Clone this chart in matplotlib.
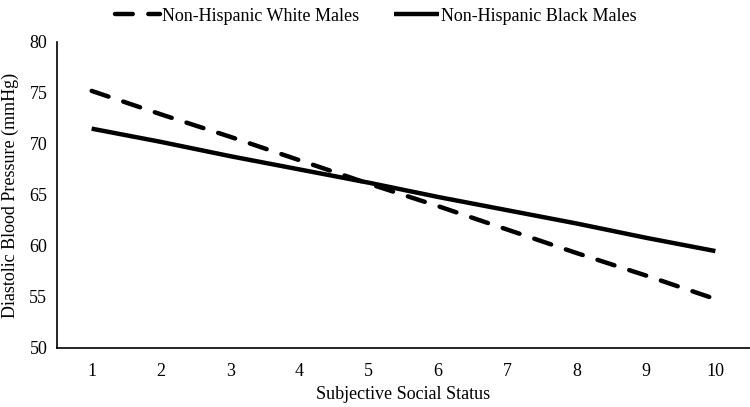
import matplotlib.pyplot as plt
import matplotlib as mpl

mpl.rcParams["font.family"] = ["Liberation Serif", "DejaVu Serif"]

# subjective social status ladder
status = [1, 2, 3, 4, 5, 6, 7, 8, 9, 10]
# predicted diastolic BP
white_dbp = [75.2, 72.9, 70.7, 68.4, 66.1, 63.9, 61.6, 59.3, 57.1, 54.8]
black_dbp = [71.5, 70.2, 68.8, 67.5, 66.2, 64.8, 63.5, 62.2, 60.8, 59.5]
yticks = [50, 55, 60, 65, 70, 75, 80]

fig = plt.figure(figsize=[7.5, 4.07], dpi=100)
ax = fig.add_axes([0.076, 0.145, 0.924, 0.752])

ax.plot(status, white_dbp, color="k", lw=3.2, ls=(0, (4, 3.5)),
        dash_capstyle="round", label="Non-Hispanic White Males")
ax.plot(status, black_dbp, color="k", lw=3.2, solid_capstyle="butt",
        label="Non-Hispanic Black Males")

ax.set_xlim(0.5, 10.5)
ax.set_ylim(50, 80)
ax.set_xticks(status)
ax.set_yticks(yticks)
ax.tick_params(length=0, labelsize=13)
ax.tick_params(axis="x", pad=11)
ax.tick_params(axis="y", pad=7)
for s in ["top", "right"]:
    ax.spines[s].set_visible(False)
ax.spines["left"].set_linewidth(1.2)
ax.spines["bottom"].set_linewidth(1.2)

ax.set_xlabel("Subjective Social Status", fontsize=13, labelpad=4)
ax.set_ylabel("Diastolic Blood Pressure (mmHg)", fontsize=13)
ax.yaxis.set_label_coords(-0.055, 0.5)

ax.legend(loc="upper center", bbox_to_anchor=(0.46, 1.165), ncol=2, frameon=False,
          fontsize=13, handlelength=2.5, handletextpad=0.1, columnspacing=1.9)

plt.savefig("out.png", dpi=100)
